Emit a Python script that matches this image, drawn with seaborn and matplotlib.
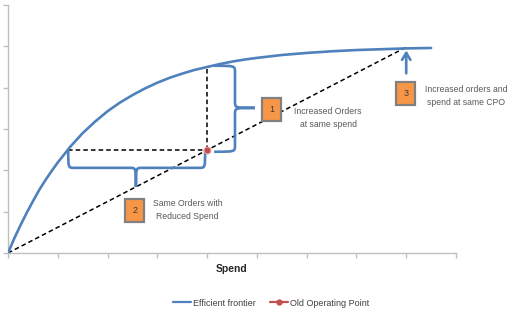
import matplotlib
matplotlib.use("Agg")
import matplotlib.pyplot as plt
import seaborn as sns
import pandas as pd
from matplotlib.path import Path
from matplotlib.patches import PathPatch, Rectangle
from matplotlib.lines import Line2D

sns.set_style("white")
plt.rcParams['font.family'] = ['Liberation Sans', 'DejaVu Sans']

# Efficient frontier (spend units, order units)
frontier_x = [0, 0.125, 0.25, 0.375, 0.5, 0.625, 0.75, 0.875, 1.0, 1.25, 1.5, 1.75,
              2.0, 2.25, 2.5, 2.75, 3.0, 3.25, 3.5, 3.75, 4.0, 4.25, 4.5, 4.75,
              5.0, 5.5, 6.0, 6.5, 7.0, 7.5, 8.0, 8.5]
frontier_y = [0, 0.35, 0.67, 0.97, 1.25, 1.52, 1.76, 1.98, 2.19, 2.57, 2.90, 3.18,
              3.43, 3.64, 3.82, 3.98, 4.12, 4.24, 4.34, 4.43, 4.50, 4.57, 4.63, 4.68,
              4.72, 4.79, 4.84, 4.88, 4.91, 4.93, 4.95, 4.96]
# Old operating point
op_x = [4.0]
op_y = [2.5]
# Constant-CPO line through origin and operating point
cpo_x = [0, 8.0]
cpo_y = [0, 4.98]
# Same orders with reduced spend point, increased orders at same spend
reduced_spend_x = 1.2
increased_orders_y = 4.53

labels = ["Efficient frontier", "Old Operating Point"]
x_label = "Spend"
notes = ["Increased Orders\nat same spend", "Same Orders with\nReduced Spend",
         "Increased orders and\nspend at same CPO"]
box_nums = ["1", "2", "3"]
box_x = [5.30, 2.55, 7.99]
box_y = [3.46, 1.04, 3.87]
note_x = [6.43, 3.61, 9.20]
note_y = [3.27, 1.04, 3.80]

BLUE = "#4F81BD"
RED = "#C0504D"
ORANGE = "#F79646"
SPINE = "#BFBFBF"
TXT = "#595959"

fig = plt.figure(figsize=(5.07, 3.17), dpi=100)
ax = fig.add_axes([8/507, 1-253/317, 448/507, 248/317])

df = pd.DataFrame({"x": frontier_x, "y": frontier_y})
sns.lineplot(data=df, x="x", y="y", ax=ax, color=BLUE, lw=1.9, zorder=3,
             solid_joinstyle="round", solid_capstyle="round")

# dashed CPO line and guide lines
ax.plot(cpo_x, cpo_y, color="black", lw=1.1, ls=(0, (3, 2)), zorder=2)
ax.plot([reduced_spend_x, op_x[0]], [op_y[0], op_y[0]], color="black", lw=1.1, ls=(0, (3, 2)), zorder=2)
ax.plot([op_x[0], op_x[0]], [op_y[0], increased_orders_y], color="black", lw=1.1, ls=(0, (3, 2)), zorder=2)

sns.scatterplot(x=op_x, y=op_y, ax=ax, color=RED, s=24, edgecolor="#E8A0A0", linewidth=0.8, zorder=5)


def vbrace(ax, x_end, x_mid, x_tip, y_top, y_bot, y_mid, r):
    verts = [(x_end, y_top), (x_mid, y_top), (x_mid, y_top), (x_mid, y_top - r),
             (x_mid, y_mid + r),
             (x_mid, y_mid), (x_mid, y_mid), (x_tip, y_mid),
             (x_mid, y_mid), (x_mid, y_mid), (x_mid, y_mid - r),
             (x_mid, y_bot + r),
             (x_mid, y_bot), (x_mid, y_bot), (x_end, y_bot)]
    codes = [Path.MOVETO, Path.CURVE4, Path.CURVE4, Path.CURVE4, Path.LINETO,
             Path.CURVE4, Path.CURVE4, Path.CURVE4,
             Path.CURVE4, Path.CURVE4, Path.CURVE4, Path.LINETO,
             Path.CURVE4, Path.CURVE4, Path.CURVE4]
    ax.add_patch(PathPatch(Path(verts, codes), fc="none", ec=BLUE, lw=1.9, zorder=4))


def hbrace(ax, y_end, y_mid, y_tip, x_left, x_right, x_mid, r):
    verts = [(x_left, y_end), (x_left, y_mid), (x_left, y_mid), (x_left + r, y_mid),
             (x_mid - r, y_mid),
             (x_mid, y_mid), (x_mid, y_mid), (x_mid, y_tip),
             (x_mid, y_mid), (x_mid, y_mid), (x_mid + r, y_mid),
             (x_right - r, y_mid),
             (x_right, y_mid), (x_right, y_mid), (x_right, y_end)]
    codes = [Path.MOVETO, Path.CURVE4, Path.CURVE4, Path.CURVE4, Path.LINETO,
             Path.CURVE4, Path.CURVE4, Path.CURVE4,
             Path.CURVE4, Path.CURVE4, Path.CURVE4, Path.LINETO,
             Path.CURVE4, Path.CURVE4, Path.CURVE4]
    ax.add_patch(PathPatch(Path(verts, codes), fc="none", ec=BLUE, lw=1.9, zorder=4))


vbrace(ax, 4.14, 4.56, 4.96, 4.53, 2.45, 3.51, 0.15)
hbrace(ax, 2.48, 2.06, 1.60, 1.21, 3.96, 2.57, 0.12)

# arrow for point 3
ax.annotate("", xy=(8.0, 4.97), xytext=(8.0, 4.28),
            arrowprops=dict(arrowstyle="->,head_length=0.5,head_width=0.3", color=BLUE, lw=1.9),
            zorder=4)

bw, bh = 19/49.8, 23/41.3
for n, bx, by in zip(box_nums, box_x, box_y):
    ax.add_patch(Rectangle((bx - bw/2, by - bh/2), bw, bh, fc=ORANGE, ec="#808080",
                           lw=1.6, zorder=6, clip_on=False))
    ax.text(bx, by, n, ha="center", va="center", fontsize=6.5, color="#3a3a3a", zorder=7)

for t, tx, ty in zip(notes, note_x, note_y):
    ax.text(tx, ty, t, ha="center", va="center", fontsize=6.2, color=TXT,
            linespacing=1.5, clip_on=False, zorder=7)

ax.set_xlim(0, 9)
ax.set_ylim(0, 6)
ax.set_xticks(range(10))
ax.set_yticks(range(7))
ax.set_xticklabels([])
ax.set_yticklabels([])
ax.tick_params(axis="both", length=3.5, width=1, color=SPINE, direction="out",
               bottom=True, left=True)
for s in ["top", "right"]:
    ax.spines[s].set_visible(False)
for s in ["left", "bottom"]:
    ax.spines[s].set_color(SPINE)
    ax.spines[s].set_linewidth(1)
ax.set_xlabel(x_label, fontsize=7.5, fontweight="bold", color="#262626", labelpad=1)
ax.set_ylabel("")

handles = [Line2D([], [], color=BLUE, lw=1.6),
           Line2D([], [], color=RED, lw=1.6, marker="o", markersize=3.5)]
fig.legend(handles, labels, loc="center", bbox_to_anchor=(0.535, 1-303/317), ncol=2,
           frameon=False, fontsize=6.5, handlelength=2.0, handletextpad=0.2,
           columnspacing=1.6, labelcolor="#404040")

fig.savefig("out.png", dpi=100)
